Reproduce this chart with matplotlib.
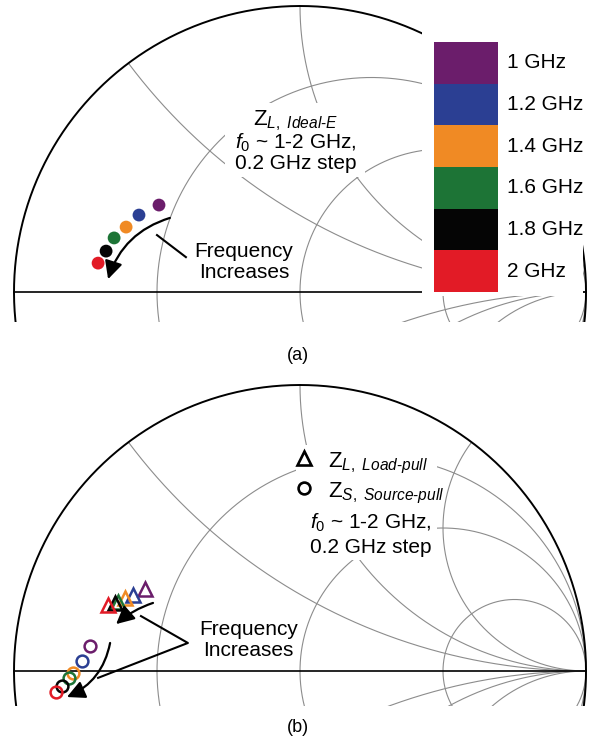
import numpy as np
import matplotlib
matplotlib.use("Agg")
import matplotlib.pyplot as plt
from matplotlib.patches import Rectangle, FancyArrowPatch

plt.rcParams['font.family'] = ['Liberation Sans', 'DejaVu Sans']
plt.rcParams['mathtext.fontset'] = 'custom'
plt.rcParams['mathtext.rm'] = 'Liberation Sans'
plt.rcParams['mathtext.it'] = 'Liberation Sans:italic'

# frequencies and colours
freq_labels = ['1 GHz', '1.2 GHz', '1.4 GHz', '1.6 GHz', '1.8 GHz', '2 GHz']
freq_colors = ['#6b1d6b', '#2b3f93', '#f08a24', '#1d7436', '#050505', '#e21b26']

# reflection coefficients (1 -> 2 GHz)
ideal_re = [-0.493, -0.563, -0.608, -0.650, -0.678, -0.706]
ideal_im = [0.304, 0.269, 0.227, 0.189, 0.143, 0.101]

load_re = [-0.542, -0.584, -0.612, -0.636, -0.647, -0.671]
load_im = [0.287, 0.266, 0.255, 0.241, 0.238, 0.231]

source_re = [-0.734, -0.762, -0.793, -0.808, -0.832, -0.853]
source_im = [0.087, 0.035, -0.007, -0.024, -0.052, -0.073]

R_CIRCLES = [1 / 3, 1, 3]
X_ARCS = [0.5, 1, 2]
GRID = '#8c8c8c'
FS = 15

W, H = 595, 747
R = 286.0  # px per unit
fig = plt.figure(figsize=(W / 100, H / 100), dpi=100)


def make_ax(top, bottom, cy):
    ax = fig.add_axes([0, 1 - bottom / H, 1, (bottom - top) / H])
    ax.set_xlim(-300 / R, (W - 300) / R)
    ax.set_ylim(-(bottom - cy) / R, (cy - top) / R)
    ax.axis('off')
    return ax


def smith(ax):
    t = np.linspace(-np.pi / 2 + 1e-4, np.pi / 2 - 1e-4, 2000)
    for r in R_CIRCLES:
        z = r + 1j * np.tan(t)
        g = (z - 1) / (z + 1)
        ax.plot(g.real, g.imag, color=GRID, lw=0.8, zorder=1)
    s = np.linspace(0, np.pi / 2 - 1e-4, 2000)
    for x in X_ARCS:
        for sg in (1, -1):
            z = np.tan(s) + 1j * sg * x
            g = (z - 1) / (z + 1)
            ax.plot(g.real, g.imag, color=GRID, lw=0.8, zorder=1)
    th = np.linspace(0, 2 * np.pi, 800)
    ax.plot(np.cos(th), np.sin(th), color='black', lw=1.4, zorder=2)
    ax.plot([-1, 1], [0, 0], color='black', lw=1.2, zorder=2)


def arrow(ax, p0, p1, rad):
    a = FancyArrowPatch(p0, p1, connectionstyle='arc3,rad=%s' % rad,
                        arrowstyle='-|>,head_length=0.6,head_width=0.3',
                        mutation_scale=18, lw=1.6, color='black',
                        shrinkA=0, shrinkB=0, zorder=6)
    ax.add_patch(a)


# ---------------- (a) ----------------
ax = make_ax(0, 322, 292)
smith(ax)

# white area behind colour legend
ax.add_patch(Rectangle(((422 - 300) / R, -4 / R), (583 - 422) / R, 1.2,
                       facecolor='white', edgecolor='none', zorder=3))
# white area behind annotation
ax.add_patch(Rectangle(((225 - 300) / R, (292 - 177) / R), 140 / R, 74 / R,
                       facecolor='white', edgecolor='none', zorder=3))

x0, x1 = (434 - 300) / R, (498 - 300) / R
top = (292 - 42) / R
h = top / len(freq_labels)
for i, (lab, c) in enumerate(zip(freq_labels, freq_colors)):
    yb = top - (i + 1) * h
    ax.add_patch(Rectangle((x0, yb), x1 - x0, h, facecolor=c, edgecolor='none', zorder=4))
    ax.text((507 - 300) / R, yb + h / 2, lab, fontsize=FS, ha='left', va='center', zorder=5)

ax.scatter(ideal_re, ideal_im, s=85, c=freq_colors, edgecolors='none', zorder=5)

ax.text(-0.014, 0.584, r'$\mathrm{Z}_{L,\ Ideal\text{-}E}$', fontsize=16,
        ha='center', va='baseline', zorder=5)
ax.text(-0.014, 0.500, r'$f_0$ ~ 1-2 GHz,', fontsize=FS, ha='center', va='baseline', zorder=5)
ax.text(-0.014, 0.430, '0.2 GHz step', fontsize=FS, ha='center', va='baseline', zorder=5)

ax.text(-0.196, 0.105, 'Frequency\nIncreases', fontsize=FS, ha='center', va='center',
        linespacing=1.15, zorder=5)
ax.plot([-0.500, -0.399], [0.199, 0.122], color='black', lw=1.5, zorder=6)
arrow(ax, (-0.455, 0.259), (-0.671, 0.045), 0.26)

# ---------------- (b) ----------------
bx = make_ax(370, 706, 671)
smith(bx)

bx.add_patch(Rectangle(((296 - 300) / R, (671 - 560) / R), 141 / R, 115 / R,
                       facecolor='white', edgecolor='none', zorder=3))

for i, c in enumerate(freq_colors):
    bx.plot(load_re[i], load_im[i], marker='^', ms=9.5, mfc='none', mec=c, mew=1.8, zorder=5)
for i, c in enumerate(freq_colors):
    bx.plot(source_re[i], source_im[i], marker='o', ms=8.5, mfc='none', mec=c, mew=1.8, zorder=5)

bx.plot(4 / R, (671 - 458) / R, marker='^', ms=9.5, mfc='none', mec='black', mew=1.9, zorder=5)
bx.plot(4 / R, (671 - 488) / R, marker='o', ms=8.5, mfc='none', mec='black', mew=1.9, zorder=5)
bx.text((328 - 300) / R, (671 - 467) / R, r'$\mathrm{Z}_{L,\ Load\text{-}pull}$', fontsize=16,
        ha='left', va='baseline', zorder=5)
bx.text((328 - 300) / R, (671 - 497) / R, r'$\mathrm{Z}_{S,\ Source\text{-}pull}$', fontsize=16,
        ha='left', va='baseline', zorder=5)
bx.text((371 - 300) / R, (671 - 529) / R, r'$f_0$ ~ 1-2 GHz,', fontsize=FS,
        ha='center', va='baseline', zorder=5)
bx.text((371 - 300) / R, (671 - 553) / R, '0.2 GHz step', fontsize=FS,
        ha='center', va='baseline', zorder=5)

bx.text(-0.180, 0.108, 'Frequency\nIncreases', fontsize=FS, ha='center', va='center',
        linespacing=1.15, zorder=5)
bx.plot([-0.556, -0.392, -0.706], [0.192, 0.098, -0.024], color='black', lw=1.5, zorder=6)
arrow(bx, (-0.514, 0.238), (-0.643, 0.164), 0.1)
arrow(bx, (-0.664, 0.098), (-0.815, -0.091), -0.26)

fig.text(298 / W, 1 - 355 / H, '(a)', fontsize=13, ha='center', va='center')
fig.text(298 / W, 1 - 727 / H, '(b)', fontsize=13, ha='center', va='center')

fig.savefig('out.png', dpi=100, facecolor='white')
